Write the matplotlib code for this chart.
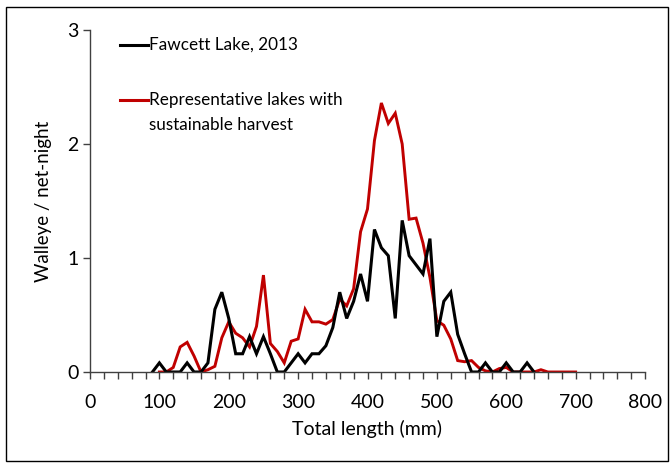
import matplotlib
matplotlib.use("Agg")
import matplotlib.pyplot as plt
from matplotlib.lines import Line2D
from matplotlib.patches import Rectangle
from matplotlib.ticker import MultipleLocator

plt.rcParams['font.family'] = ['Lato', 'DejaVu Sans']

# Fawcett Lake, 2013 (length bins 90..640 mm, step 10)
fawcett_len = list(range(90, 650, 10))
fawcett_cpue = [0, 0.08, 0, 0, 0, 0.08, 0, 0, 0.08, 0.55,
                0.70, 0.47, 0.16, 0.16, 0.31, 0.16, 0.31, 0.16, 0, 0,
                0.08, 0.16, 0.08, 0.16, 0.16, 0.23, 0.39, 0.70, 0.47, 0.62,
                0.86, 0.62, 1.25, 1.09, 1.02, 0.47, 1.33, 1.02, 0.94, 0.86,
                1.17, 0.31, 0.62, 0.70, 0.33, 0.16, 0, 0, 0.08, 0,
                0, 0.08, 0, 0, 0.08, 0]

# Representative lakes with sustainable harvest (100..700 mm, step 10)
rep_len = list(range(100, 710, 10))
rep_cpue = [0, 0, 0.04, 0.22, 0.26, 0.14, 0.0, 0.02, 0.05, 0.30,
            0.44, 0.34, 0.30, 0.22, 0.40, 0.85, 0.25, 0.18, 0.08, 0.27,
            0.29, 0.55, 0.44, 0.44, 0.42, 0.46, 0.64, 0.58, 0.73, 1.23,
            1.43, 2.03, 2.36, 2.18, 2.27, 2.00, 1.34, 1.35, 1.13, 0.83,
            0.45, 0.41, 0.29, 0.10, 0.09, 0.10, 0.04, 0.01, 0.0, 0.03,
            0.04, 0.0, 0, 0, 0, 0.02, 0, 0, 0, 0,
            0]

labels = ["Fawcett Lake, 2013", "Representative lakes with", "sustainable harvest"]
colors = ["#000000", "#C00000"]

fig = plt.figure(figsize=(6.72, 4.63), dpi=100)
ax = fig.add_axes([90/672, 1-372/463, 555/672, 342/463])

ax.plot(rep_len, rep_cpue, color=colors[1], lw=2.1, solid_joinstyle='miter')
ax.plot(fawcett_len, fawcett_cpue, color=colors[0], lw=2.2, solid_joinstyle='miter')

ax.set_xlim(0, 800)
ax.set_ylim(0, 3)
ax.xaxis.set_major_locator(MultipleLocator(100))
ax.xaxis.set_minor_locator(MultipleLocator(20))
ax.yaxis.set_major_locator(MultipleLocator(1))
for s in ['top', 'right']:
    ax.spines[s].set_visible(False)
for s in ['left', 'bottom']:
    ax.spines[s].set_color('#404040')
    ax.spines[s].set_linewidth(1.0)
ax.tick_params(axis='x', which='both', direction='out', length=5, width=1,
               color='#404040', labelsize=14, pad=11)
ax.tick_params(axis='y', which='major', direction='out', length=5, width=1,
               color='#404040', labelsize=14, pad=3)
ax.set_xlabel("Total length (mm)", fontsize=14, labelpad=6)
ax.set_ylabel("Walleye / net-night", fontsize=13.5, labelpad=11)

# legend-like annotations
ax.add_line(Line2D([0.054, 0.105], [0.956, 0.956], transform=ax.transAxes,
                   color=colors[0], lw=2.2))
ax.text(0.106, 0.956, labels[0], transform=ax.transAxes, fontsize=12.3,
        va='center', ha='left')
ax.add_line(Line2D([0.054, 0.105], [0.795, 0.795], transform=ax.transAxes,
                   color=colors[1], lw=2.2))
ax.text(0.106, 0.795, labels[1], transform=ax.transAxes, fontsize=12.3,
        va='center', ha='left')
ax.text(0.106, 0.722, labels[2], transform=ax.transAxes, fontsize=12.3,
        va='center', ha='left')

fig.patches.append(Rectangle((6/672, 1-461/463), 662/672, 454/463,
                             transform=fig.transFigure, fill=False,
                             edgecolor='black', lw=1.0))

fig.savefig("out.png", dpi=100)
